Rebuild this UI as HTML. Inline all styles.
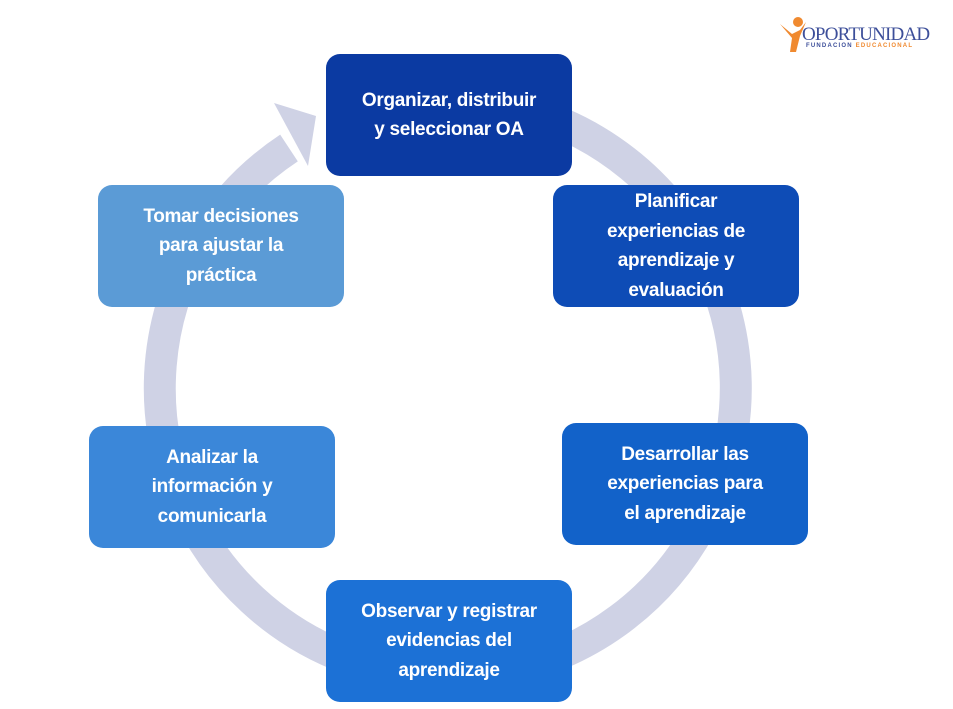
<!DOCTYPE html>
<html><head><meta charset="utf-8"><style>
body{margin:0;width:953px;height:709px;background:#fff;overflow:hidden;position:relative;font-family:"Liberation Sans",sans-serif}
.b{position:absolute;width:246px;height:122px;border-radius:14px;color:#fff;font-weight:bold;font-size:19px;letter-spacing:-0.3px;line-height:29.5px;display:flex;align-items:center;justify-content:center;text-align:center}
</style></head><body>
<svg width="953" height="709" style="position:absolute;left:0;top:0">
<path d="M 522 110 A 288 288 0 1 1 289 148" fill="none" stroke="#cfd2e5" stroke-width="32"/>
<polygon points="274,103 316,116 308,166" fill="#cfd2e5"/>
</svg>
<div class="b" style="left:326px;top:54px;background:#0b3aa2">Organizar, distribuir<br>y seleccionar OA</div>
<div class="b" style="left:553px;top:185px;background:#0e4cb6">Planificar<br>experiencias de<br>aprendizaje y<br>evaluación</div>
<div class="b" style="left:562px;top:423px;background:#1262c9">Desarrollar las<br>experiencias para<br>el aprendizaje</div>
<div class="b" style="left:326px;top:580px;background:#1c71d6">Observar y registrar<br>evidencias del<br>aprendizaje</div>
<div class="b" style="left:89px;top:426px;background:#3b87d9">Analizar la<br>información y<br>comunicarla</div>
<div class="b" style="left:98px;top:185px;background:#5b9bd6">Tomar decisiones<br>para ajustar la<br>práctica</div>
<div style="position:absolute;left:778px;top:16px;width:30px;height:36px">
<svg width="30" height="38"><circle cx="20" cy="6" r="5" fill="#f08a30"/><path d="M2 8 L14 18 L22 14 L28 6 L22 20 L18 36 L12 36 L14 22 Z" fill="#f08a30"/></svg></div>
<div style="position:absolute;left:802px;top:24px;font-family:'Liberation Serif',serif;font-size:19px;color:#3d4f9a;letter-spacing:-0.8px">OPORTUNIDAD</div>
<div style="position:absolute;left:806px;top:43px;font-size:6px;letter-spacing:1.2px;color:#3d4f9a;font-weight:bold">FUNDACION <span style="color:#f08a30">EDUCACIONAL</span></div>
</body></html>
